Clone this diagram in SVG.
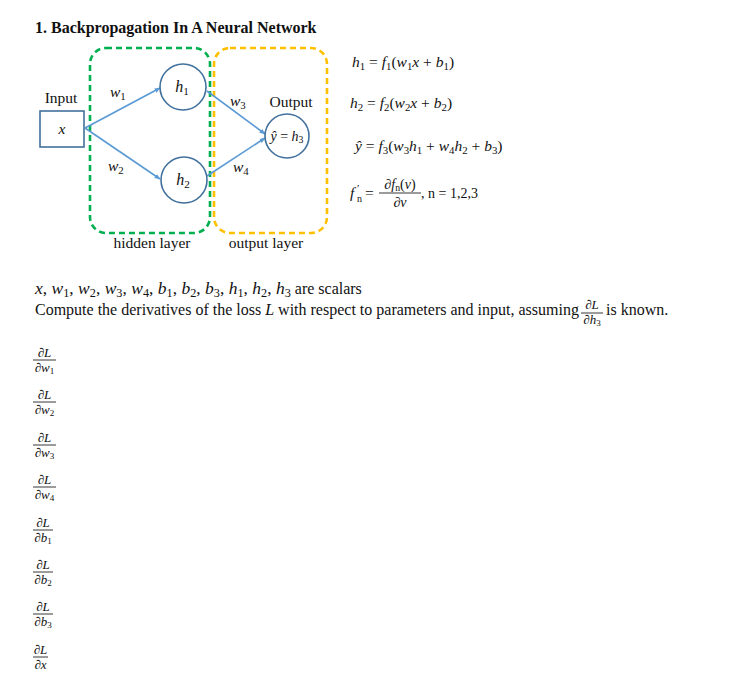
<svg xmlns="http://www.w3.org/2000/svg" width="754" height="686" viewBox="0 0 754 686">
<defs>
<marker id="ah" viewBox="0 0 10 10" refX="9" refY="5" markerWidth="6" markerHeight="6" orient="auto" markerUnits="userSpaceOnUse">
<path d="M0,1 L10,5 L0,9 z" fill="#5b9bd5"/>
</marker>
<style>
text{font-family:"Liberation Serif","Times New Roman",serif;fill:#111}
.t{font-size:16px}
.lbl{font-size:15.5px}
.m{font-style:italic}
.eq{font-size:15.5px}
.s{font-size:0.7em;baseline-shift:-0.25em}
.nd{fill:#fff;stroke:#41719c;stroke-width:1.6}
.cn{stroke:#5b9bd5;stroke-width:1.6;fill:none;marker-end:url(#ah)}
.fr{stroke:#222;stroke-width:0.9}
.sm{font-size:13px}
</style>
</defs>
<rect width="754" height="686" fill="#fff"/>

<text x="35" y="33" style="font-size:16px;font-weight:bold">1. Backpropagation In A Neural Network</text>

<g id="hidden-layer-box">
<rect x="90" y="48" width="120" height="185" rx="16" fill="none" stroke="#00b050" stroke-width="2.6" stroke-dasharray="6,4"/>
<text x="152" y="248" class="lbl" text-anchor="middle">hidden layer</text>
</g>
<g id="output-layer-box">
<rect x="214" y="48" width="113" height="185" rx="16" fill="none" stroke="#ffc000" stroke-width="2.6" stroke-dasharray="6,4"/>
<text x="266" y="248" class="lbl" text-anchor="middle">output layer</text>
</g>

<g id="connectors">
<line class="cn" x1="85" y1="128" x2="160" y2="88"/>
<line class="cn" x1="85" y1="128" x2="160" y2="179"/>
<line class="cn" x1="207" y1="91" x2="265" y2="134"/>
<line class="cn" x1="207" y1="176" x2="265" y2="138"/>
<text x="110" y="97" class="eq m">w<tspan class="s" style="font-style:normal">1</tspan></text>
<text x="108" y="171" class="eq m">w<tspan class="s" style="font-style:normal">2</tspan></text>
<text x="230" y="106" class="eq m">w<tspan class="s" style="font-style:normal">3</tspan></text>
<text x="233" y="172" class="eq m">w<tspan class="s" style="font-style:normal">4</tspan></text>
</g>

<g id="input">
<text x="61" y="103" class="lbl" text-anchor="middle">Input</text>
<rect x="40" y="111" width="44" height="36" class="nd"/>
<text x="62" y="134" class="eq m" text-anchor="middle">x</text>
</g>
<g id="h1">
<circle cx="183" cy="87" r="23" class="nd"/>
<text x="182" y="92" class="eq m" text-anchor="middle" style="font-size:16px">h<tspan class="s" style="font-style:normal">1</tspan></text>
</g>
<g id="h2">
<circle cx="184" cy="180" r="23" class="nd"/>
<text x="183" y="185" class="eq m" text-anchor="middle" style="font-size:16px">h<tspan class="s" style="font-style:normal">2</tspan></text>
</g>
<g id="output">
<text x="291" y="107" class="lbl" text-anchor="middle">Output</text>
<circle cx="287" cy="136" r="22" class="nd"/>
<text x="287" y="141" text-anchor="middle" style="font-size:14px"><tspan class="m">ŷ</tspan> = <tspan class="m">h</tspan><tspan class="s">3</tspan></text>
</g>

<g id="equations">
<text x="352" y="67" class="eq"><tspan class="m">h</tspan><tspan class="s">1</tspan> = <tspan class="m">f</tspan><tspan class="s">1</tspan>(<tspan class="m">w</tspan><tspan class="s">1</tspan><tspan class="m">x</tspan> + <tspan class="m">b</tspan><tspan class="s">1</tspan>)</text>
<text x="350" y="108" class="eq"><tspan class="m">h</tspan><tspan class="s">2</tspan> = <tspan class="m">f</tspan><tspan class="s">2</tspan>(<tspan class="m">w</tspan><tspan class="s">2</tspan><tspan class="m">x</tspan> + <tspan class="m">b</tspan><tspan class="s">2</tspan>)</text>
<text x="355" y="151" class="eq"><tspan class="m">ŷ</tspan> = <tspan class="m">f</tspan><tspan class="s">3</tspan>(<tspan class="m">w</tspan><tspan class="s">3</tspan><tspan class="m">h</tspan><tspan class="s">1</tspan> + <tspan class="m">w</tspan><tspan class="s">4</tspan><tspan class="m">h</tspan><tspan class="s">2</tspan> + <tspan class="m">b</tspan><tspan class="s">3</tspan>)</text>
<text x="350" y="198" class="eq m">f</text>
<text x="357" y="192" style="font-size:11px">′</text>
<text x="357" y="202" style="font-size:10px">n</text>
<text x="365" y="198" class="eq">=</text>
<line x1="379" y1="193" x2="421" y2="193" class="fr"/>
<text x="400" y="189" style="font-size:14px" text-anchor="middle">∂<tspan class="m">f</tspan><tspan class="s">n</tspan>(<tspan class="m">v</tspan>)</text>
<text x="400" y="207" style="font-size:14px" text-anchor="middle">∂<tspan class="m">v</tspan></text>
<text x="421" y="198" style="font-size:14px">, n = 1,2,3</text>
</g>

<g id="statement">
<text x="35" y="294" class="t"><tspan style="font-size:17.5px"><tspan class="m">x</tspan>, <tspan class="m">w</tspan><tspan class="s">1</tspan>, <tspan class="m">w</tspan><tspan class="s">2</tspan>, <tspan class="m">w</tspan><tspan class="s">3</tspan>, <tspan class="m">w</tspan><tspan class="s">4</tspan>, <tspan class="m">b</tspan><tspan class="s">1</tspan>, <tspan class="m">b</tspan><tspan class="s">2</tspan>, <tspan class="m">b</tspan><tspan class="s">3</tspan>, <tspan class="m">h</tspan><tspan class="s">1</tspan>, <tspan class="m">h</tspan><tspan class="s">2</tspan>, <tspan class="m">h</tspan><tspan class="s">3</tspan></tspan> are scalars</text>
<text x="35" y="315" class="t">Compute the derivatives of the loss <tspan class="m">L</tspan> with respect to parameters and input, assuming</text>
<line x1="581" y1="313" x2="603" y2="313" class="fr"/>
<text x="592" y="309" class="sm" text-anchor="middle">∂<tspan class="m">L</tspan></text>
<text x="592" y="324" class="sm" text-anchor="middle">∂<tspan class="m">h</tspan><tspan class="s">3</tspan></text>
<text x="606" y="315" class="t">is known.</text>
</g>

<g id="derivatives">
<g id="d-w1"><line x1="33" y1="360" x2="56" y2="360" class="fr"/><text x="44.5" y="357" class="sm" text-anchor="middle">∂<tspan class="m">L</tspan></text><text x="44.5" y="372" class="sm" text-anchor="middle">∂<tspan class="m">w</tspan><tspan class="s">1</tspan></text></g>
<g id="d-w2"><line x1="33" y1="402" x2="56" y2="402" class="fr"/><text x="44.5" y="399" class="sm" text-anchor="middle">∂<tspan class="m">L</tspan></text><text x="44.5" y="414" class="sm" text-anchor="middle">∂<tspan class="m">w</tspan><tspan class="s">2</tspan></text></g>
<g id="d-w3"><line x1="33" y1="445" x2="56" y2="445" class="fr"/><text x="44.5" y="442" class="sm" text-anchor="middle">∂<tspan class="m">L</tspan></text><text x="44.5" y="457" class="sm" text-anchor="middle">∂<tspan class="m">w</tspan><tspan class="s">3</tspan></text></g>
<g id="d-w4"><line x1="33" y1="487" x2="56" y2="487" class="fr"/><text x="44.5" y="484" class="sm" text-anchor="middle">∂<tspan class="m">L</tspan></text><text x="44.5" y="499" class="sm" text-anchor="middle">∂<tspan class="m">w</tspan><tspan class="s">4</tspan></text></g>
<g id="d-b1"><line x1="33" y1="530" x2="53" y2="530" class="fr"/><text x="43" y="527" class="sm" text-anchor="middle">∂<tspan class="m">L</tspan></text><text x="43" y="542" class="sm" text-anchor="middle">∂<tspan class="m">b</tspan><tspan class="s">1</tspan></text></g>
<g id="d-b2"><line x1="33" y1="572" x2="53" y2="572" class="fr"/><text x="43" y="569" class="sm" text-anchor="middle">∂<tspan class="m">L</tspan></text><text x="43" y="584" class="sm" text-anchor="middle">∂<tspan class="m">b</tspan><tspan class="s">2</tspan></text></g>
<g id="d-b3"><line x1="33" y1="614" x2="53" y2="614" class="fr"/><text x="43" y="611" class="sm" text-anchor="middle">∂<tspan class="m">L</tspan></text><text x="43" y="626" class="sm" text-anchor="middle">∂<tspan class="m">b</tspan><tspan class="s">3</tspan></text></g>
<g id="d-x"><line x1="33" y1="657" x2="48" y2="657" class="fr"/><text x="40.5" y="654" class="sm" text-anchor="middle">∂<tspan class="m">L</tspan></text><text x="40.5" y="669" class="sm" text-anchor="middle">∂<tspan class="m">x</tspan></text></g>
</g>
</svg>
